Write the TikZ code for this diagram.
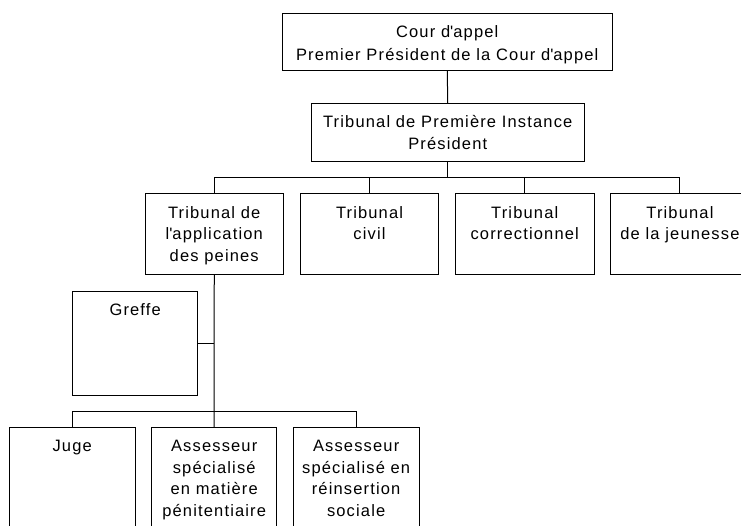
\documentclass[tikz,border=0pt]{standalone}
\usepackage{fontspec}
\setmainfont{Liberation Sans}[LetterSpace=7]
\newcommand\boxtxt[4]{\parbox[c][#2][t]{#1}{\centering\rule{0pt}{#3}#4\par}}
\tikzset{
  orgbox/.style={draw=black, line width=1pt, rectangle, inner sep=0pt, outer sep=0pt, anchor=north west},
  bigtxt/.style={font=\fontsize{16.5}{22.7}\selectfont},
  smalltxt/.style={font=\fontsize{16.5}{21.6}\selectfont},
  link/.style={draw=black, line width=1pt},
}
\begin{document}
\begin{tikzpicture}[x=1pt,y=-1pt]
\clip (0,0) rectangle (741,526);
\fill[white] (0,0) rectangle (741,526);
% level 1
\node[orgbox,bigtxt] (cour) at (282,13.5) {\boxtxt{330.5pt}{57pt}{24pt}{Cour d\textquotesingle appel\\Premier Président de la Cour d\textquotesingle appel}};
% level 2
\node[orgbox,bigtxt] (pres) at (311,103.3) {\boxtxt{273.5pt}{58.4pt}{24pt}{Tribunal de Première Instance\\Président}};
% level 3
\node[orgbox,smalltxt] (tap) at (145,193.3) {\boxtxt{138.5pt}{81.5pt}{25pt}{Tribunal de\\l\textquotesingle application\\des peines}};
\node[orgbox,smalltxt] (civ) at (300.3,193.3) {\boxtxt{138.5pt}{81.5pt}{25pt}{Tribunal\\civil}};
\node[orgbox,smalltxt] (cor) at (455.5,193.3) {\boxtxt{138.5pt}{81.5pt}{25pt}{Tribunal\\correctionnel}};
\node[orgbox,smalltxt] (jeu) at (610.7,193.3) {\boxtxt{138.5pt}{81.5pt}{25pt}{Tribunal\\de la jeunesse}};
% greffe
\node[orgbox,smalltxt] (gre) at (72.7,291.7) {\boxtxt{125pt}{104pt}{23.5pt}{Greffe}};
% level 4
\node[orgbox,smalltxt] (juge) at (9.3,427.7) {\boxtxt{125.7pt}{110pt}{24pt}{Juge}};
\node[orgbox,smalltxt] (asp) at (151.7,427.7) {\boxtxt{125pt}{110pt}{24pt}{Assesseur\\spécialisé\\en matière\\pénitentiaire}};
\node[orgbox,smalltxt] (asr) at (293.3,427.7) {\boxtxt{125.7pt}{110pt}{24pt}{Assesseur\\spécialisé en\\réinsertion\\sociale}};
% connectors
\coordinate (bus) at (0,177.3);
\coordinate (bus2) at (0,411.7);
\draw[link] (cour.south) -- (pres.north);
\draw[link] (pres.south) -- (pres.south |- bus);
\draw[link] (tap.north) -- (tap.north |- bus) -- (jeu.north |- bus) -- (jeu.north);
\draw[link] (civ.north) -- (civ.north |- bus);
\draw[link] (cor.north) -- (cor.north |- bus);
\draw[link] (tap.south) -- (asp.north);
\draw[link] (gre.east) -- (gre.east -| tap.south);
\draw[link] (juge.north) -- (juge.north |- bus2) -- (asr.north |- bus2) -- (asr.north);
\end{tikzpicture}
\end{document}
